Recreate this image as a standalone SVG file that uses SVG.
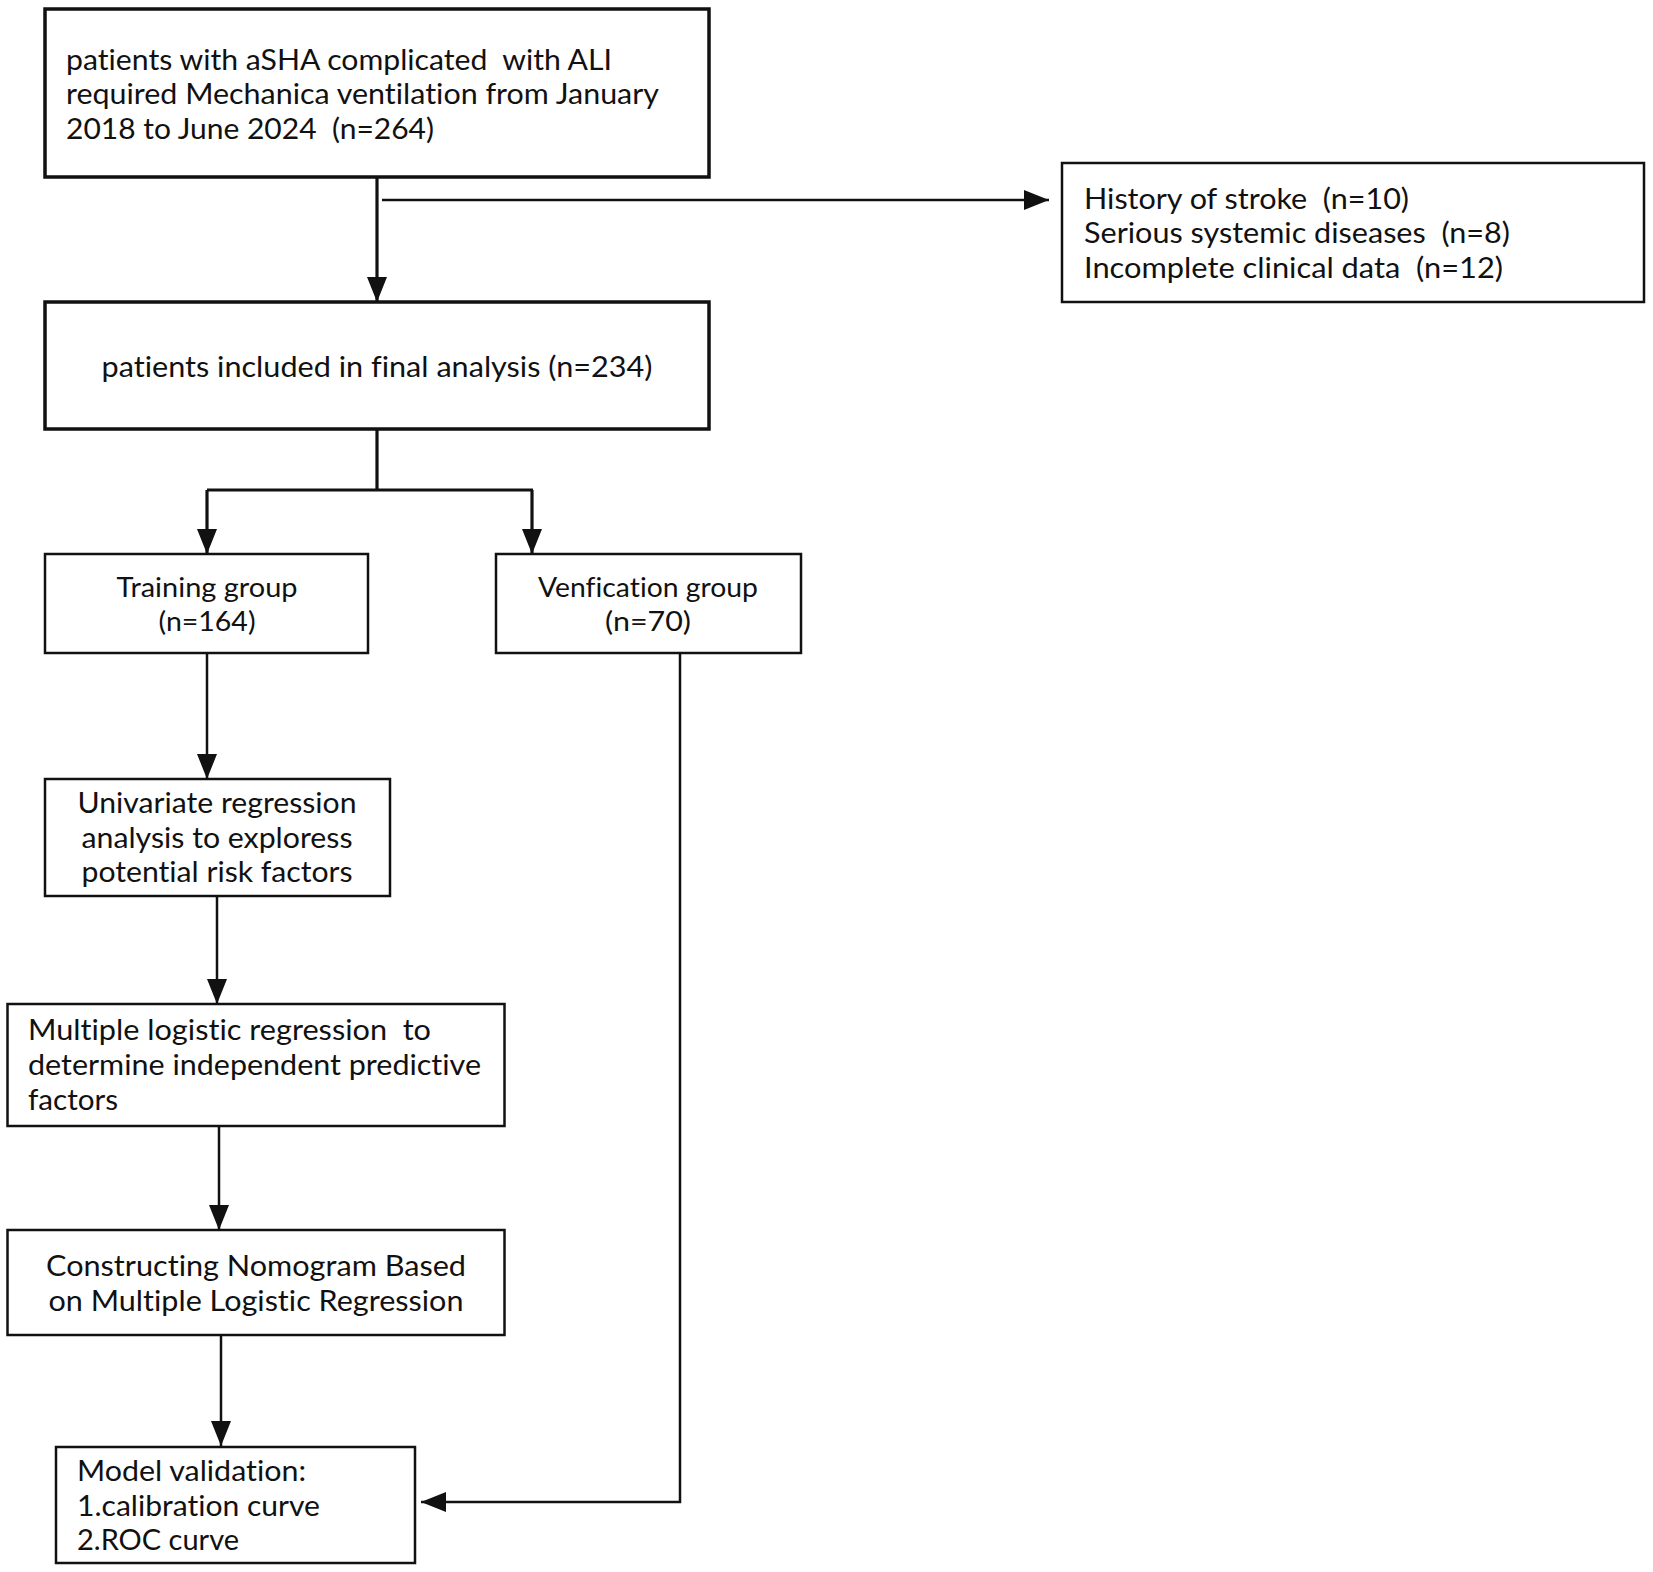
<svg xmlns="http://www.w3.org/2000/svg" width="1653" height="1572" viewBox="0 0 1653 1572">
<style>
.box{fill:#fff;stroke:#111;stroke-width:2.5}
.thick{stroke-width:3.5}
.t{font-family:Lato,"Open Sans","Noto Sans",sans-serif;font-size:28px;fill:#111;white-space:pre;font-variant-ligatures:none;font-feature-settings:"liga" 0,"clig" 0,"dlig" 0}
.s{font-size:27px}
.c{text-anchor:middle}
.ln{fill:none;stroke:#111;stroke-width:2.5}
.lt{stroke-width:3.2}
</style>
<defs>
<marker id="ah" markerUnits="userSpaceOnUse" markerWidth="26" markerHeight="20" refX="25" refY="10" orient="auto">
<path d="M0,0 L25,10 L0,20 z" fill="#111"/>
</marker>
</defs>
<rect width="1653" height="1572" fill="#fff"/>
<g id="connectors">
<path class="ln lt" d="M377,177 V302" marker-end="url(#ah)"/>
<path class="ln" d="M382,200 H1049" marker-end="url(#ah)"/>
<path class="ln lt" d="M377,429 V490 M207,490 H533"/>
<path class="ln lt" d="M207,490 V554" marker-end="url(#ah)"/>
<path class="ln lt" d="M532,490 V554" marker-end="url(#ah)"/>
<path class="ln" d="M207,653 V779" marker-end="url(#ah)"/>
<path class="ln" d="M217,896 V1004" marker-end="url(#ah)"/>
<path class="ln" d="M219,1126 V1230" marker-end="url(#ah)"/>
<path class="ln" d="M221,1335 V1446" marker-end="url(#ah)"/>
<path class="ln" d="M680,653 V1502 H421" marker-end="url(#ah)"/>
</g>
<g id="n1">
<rect class="box thick" x="45" y="9" width="664" height="168"/>
<text class="t" x="66" y="70" textLength="546" lengthAdjust="spacingAndGlyphs">patients with aSHA complicated  with ALI</text>
<text class="t" x="66" y="104" textLength="593" lengthAdjust="spacingAndGlyphs">required Mechanica ventilation from January</text>
<text class="t" x="66" y="139" textLength="368" lengthAdjust="spacingAndGlyphs">2018 to June 2024  (n=264)</text>
</g>
<g id="n2">
<rect class="box" x="1062" y="163" width="582" height="139"/>
<text class="t" x="1084" y="209" textLength="325" lengthAdjust="spacingAndGlyphs">History of stroke  (n=10)</text>
<text class="t" x="1084" y="243" textLength="426" lengthAdjust="spacingAndGlyphs">Serious systemic diseases  (n=8)</text>
<text class="t" x="1084" y="278" textLength="419" lengthAdjust="spacingAndGlyphs">Incomplete clinical data  (n=12)</text>
</g>
<g id="n3">
<rect class="box thick" x="45" y="302" width="664" height="127"/>
<text class="t c" x="377" y="377" textLength="551" lengthAdjust="spacingAndGlyphs">patients included in final analysis (n=234)</text>
</g>
<g id="n4">
<rect class="box" x="45" y="554" width="323" height="99"/>
<text class="t s c" x="207" y="597" textLength="181" lengthAdjust="spacingAndGlyphs">Training group</text>
<text class="t s c" x="207" y="631" textLength="97" lengthAdjust="spacingAndGlyphs">(n=164)</text>
</g>
<g id="n5">
<rect class="box" x="496" y="554" width="305" height="99"/>
<text class="t s c" x="648" y="597" textLength="220" lengthAdjust="spacingAndGlyphs">Venfication group</text>
<text class="t s c" x="648" y="631" textLength="86" lengthAdjust="spacingAndGlyphs">(n=70)</text>
</g>
<g id="n6">
<rect class="box" x="45" y="779" width="345" height="117"/>
<text class="t c" x="217" y="813" textLength="279" lengthAdjust="spacingAndGlyphs">Univariate regression</text>
<text class="t c" x="217" y="848" textLength="271" lengthAdjust="spacingAndGlyphs">analysis to exploress</text>
<text class="t c" x="217" y="882" textLength="271" lengthAdjust="spacingAndGlyphs">potential risk factors</text>
</g>
<g id="n7">
<rect class="box" x="7.5" y="1004" width="497" height="122"/>
<text class="t" x="28" y="1040" textLength="403" lengthAdjust="spacingAndGlyphs">Multiple logistic regression  to</text>
<text class="t" x="28" y="1075" textLength="453" lengthAdjust="spacingAndGlyphs">determine independent predictive</text>
<text class="t" x="28" y="1110" textLength="90" lengthAdjust="spacingAndGlyphs">factors</text>
</g>
<g id="n8">
<rect class="box" x="7.5" y="1230" width="497" height="105"/>
<text class="t c" x="256" y="1276" textLength="420" lengthAdjust="spacingAndGlyphs">Constructing Nomogram Based</text>
<text class="t c" x="256" y="1311" textLength="415" lengthAdjust="spacingAndGlyphs">on Multiple Logistic Regression</text>
</g>
<g id="n9">
<rect class="box" x="56" y="1447" width="359" height="116"/>
<text class="t" x="77" y="1481" textLength="229" lengthAdjust="spacingAndGlyphs">Model validation:</text>
<text class="t" x="77" y="1516" textLength="243" lengthAdjust="spacingAndGlyphs">1.calibration curve</text>
<text class="t" x="77" y="1550" textLength="162" lengthAdjust="spacingAndGlyphs">2.ROC curve</text>
</g>
</svg>
